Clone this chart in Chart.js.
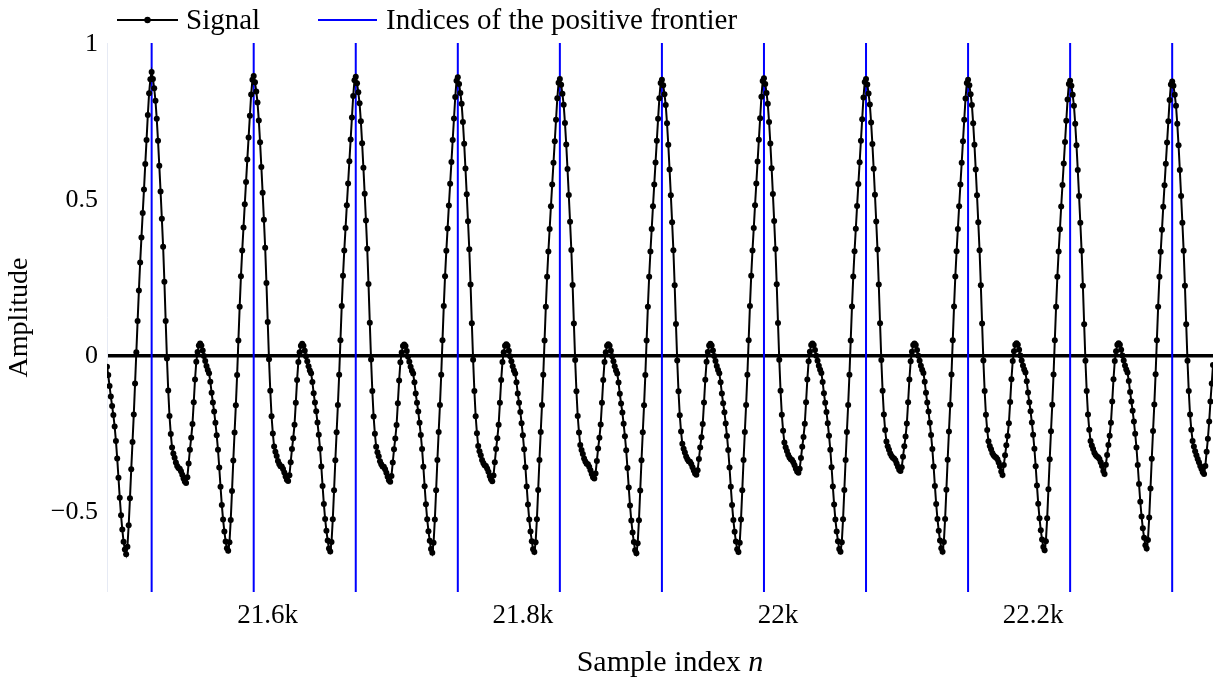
<!DOCTYPE html>
<html>
<head>
<meta charset="utf-8">
<script src="https://cdn.jsdelivr.net/npm/chart.js@4.4.1/dist/chart.umd.min.js"></script>
<style>
  html, body { margin: 0; padding: 0; background: #fff; }
  #wrap { width: 1220px; height: 677px; }
</style>
</head>
<body>
<div id="wrap"><canvas id="chart" width="1220" height="677"></canvas></div>
<script>
// visible sample window
const n_start = 21474;
const n_end = 22341;

// signal, one block per period (a period starts right after a peak)
const cycle_0 = [
  -0.034, -0.061, -0.096, -0.130, -0.160, -0.189, -0.226, -0.272, -0.328, -0.390,
  -0.454, -0.510, -0.556, -0.595, -0.620, -0.635, -0.611, -0.542, -0.456, -0.363,
  -0.275, -0.187, -0.088, 0.012, 0.112, 0.210, 0.300, 0.380, 0.458, 0.534,
  0.615, 0.692, 0.772, 0.842, 0.887, 0.910
];
const cycle_1 = [
  0.888, 0.858, 0.818, 0.760, 0.690, 0.610, 0.527, 0.440, 0.350, 0.238,
  0.112, -0.008, -0.110, -0.192, -0.250, -0.293, -0.312, -0.326, -0.341, -0.352,
  -0.359, -0.361, -0.369, -0.380, -0.392, -0.402, -0.407, -0.388, -0.344, -0.300,
  -0.262, -0.218, -0.148, -0.075, -0.018, 0.013, 0.034, 0.040, 0.034, 0.018,
  0.000, -0.016, -0.032, -0.045, -0.055, -0.082, -0.118, -0.149, -0.178, -0.214,
  -0.254, -0.300, -0.357, -0.419, -0.477, -0.524, -0.562, -0.594, -0.616, -0.624,
  -0.597, -0.525, -0.432, -0.335, -0.245, -0.158, -0.061, 0.050, 0.158, 0.256,
  0.338, 0.412, 0.486, 0.558, 0.630, 0.700, 0.770, 0.838, 0.885, 0.897
];
const cycle_2 = [
  0.877, 0.848, 0.812, 0.755, 0.685, 0.606, 0.523, 0.437, 0.347, 0.234,
  0.109, -0.010, -0.111, -0.193, -0.248, -0.290, -0.307, -0.320, -0.336, -0.346,
  -0.353, -0.354, -0.362, -0.373, -0.386, -0.396, -0.400, -0.382, -0.340, -0.298,
  -0.263, -0.220, -0.150, -0.077, -0.019, 0.012, 0.033, 0.039, 0.033, 0.017,
  -0.001, -0.017, -0.033, -0.046, -0.055, -0.083, -0.119, -0.149, -0.177, -0.213,
  -0.252, -0.297, -0.354, -0.416, -0.474, -0.522, -0.560, -0.591, -0.617, -0.626,
  -0.596, -0.523, -0.430, -0.334, -0.244, -0.157, -0.060, 0.051, 0.160, 0.257,
  0.338, 0.410, 0.483, 0.553, 0.624, 0.694, 0.764, 0.833, 0.884, 0.895
];
const cycle_3 = [
  0.874, 0.845, 0.810, 0.752, 0.682, 0.603, 0.520, 0.434, 0.344, 0.231,
  0.107, -0.011, -0.112, -0.194, -0.249, -0.291, -0.308, -0.321, -0.337, -0.347,
  -0.354, -0.355, -0.363, -0.374, -0.387, -0.398, -0.403, -0.384, -0.341, -0.299,
  -0.264, -0.221, -0.151, -0.078, -0.020, 0.011, 0.032, 0.037, 0.032, 0.016,
  -0.002, -0.018, -0.034, -0.047, -0.056, -0.084, -0.120, -0.150, -0.178, -0.214,
  -0.253, -0.298, -0.355, -0.417, -0.475, -0.523, -0.561, -0.592, -0.618, -0.630,
  -0.598, -0.524, -0.430, -0.333, -0.243, -0.157, -0.060, 0.051, 0.160, 0.256,
  0.337, 0.409, 0.482, 0.552, 0.622, 0.692, 0.761, 0.830, 0.882, 0.893
];
const cycle_4 = [
  0.872, 0.843, 0.808, 0.750, 0.680, 0.601, 0.518, 0.432, 0.342, 0.229,
  0.105, -0.012, -0.112, -0.193, -0.247, -0.288, -0.305, -0.318, -0.333, -0.343,
  -0.350, -0.352, -0.360, -0.371, -0.384, -0.395, -0.401, -0.383, -0.340, -0.298,
  -0.263, -0.220, -0.150, -0.077, -0.019, 0.012, 0.033, 0.038, 0.033, 0.017,
  -0.001, -0.017, -0.033, -0.046, -0.056, -0.084, -0.120, -0.150, -0.179, -0.215,
  -0.254, -0.299, -0.356, -0.418, -0.476, -0.524, -0.562, -0.593, -0.619, -0.628,
  -0.597, -0.523, -0.429, -0.333, -0.243, -0.157, -0.060, 0.050, 0.158, 0.254,
  0.335, 0.407, 0.480, 0.550, 0.619, 0.688, 0.757, 0.826, 0.876, 0.888
];
const cycle_5 = [
  0.869, 0.840, 0.805, 0.747, 0.678, 0.599, 0.516, 0.430, 0.340, 0.228,
  0.104, -0.013, -0.113, -0.192, -0.245, -0.285, -0.301, -0.314, -0.328, -0.338,
  -0.345, -0.347, -0.355, -0.366, -0.378, -0.388, -0.392, -0.376, -0.336, -0.296,
  -0.262, -0.219, -0.150, -0.077, -0.019, 0.012, 0.033, 0.038, 0.033, 0.017,
  -0.001, -0.017, -0.033, -0.046, -0.056, -0.085, -0.121, -0.152, -0.181, -0.217,
  -0.257, -0.302, -0.359, -0.421, -0.479, -0.527, -0.565, -0.596, -0.622, -0.632,
  -0.600, -0.526, -0.431, -0.334, -0.244, -0.158, -0.061, 0.050, 0.158, 0.254,
  0.335, 0.407, 0.480, 0.550, 0.620, 0.690, 0.760, 0.826, 0.875, 0.885
];
const cycle_6 = [
  0.868, 0.839, 0.804, 0.746, 0.677, 0.598, 0.515, 0.429, 0.339, 0.227,
  0.103, -0.014, -0.113, -0.190, -0.242, -0.281, -0.297, -0.309, -0.322, -0.331,
  -0.337, -0.339, -0.346, -0.356, -0.367, -0.376, -0.380, -0.366, -0.330, -0.293,
  -0.260, -0.218, -0.149, -0.076, -0.018, 0.013, 0.034, 0.039, 0.034, 0.018,
  0.000, -0.016, -0.032, -0.045, -0.055, -0.084, -0.120, -0.151, -0.180, -0.216,
  -0.256, -0.301, -0.357, -0.419, -0.477, -0.525, -0.563, -0.594, -0.619, -0.628,
  -0.598, -0.524, -0.430, -0.333, -0.243, -0.157, -0.060, 0.051, 0.160, 0.257,
  0.338, 0.410, 0.483, 0.553, 0.623, 0.693, 0.762, 0.831, 0.881, 0.890
];
const cycle_7 = [
  0.872, 0.843, 0.808, 0.750, 0.681, 0.602, 0.519, 0.433, 0.343, 0.230,
  0.106, -0.012, -0.111, -0.188, -0.239, -0.277, -0.292, -0.304, -0.316, -0.325,
  -0.331, -0.333, -0.340, -0.350, -0.361, -0.370, -0.374, -0.361, -0.327, -0.291,
  -0.259, -0.217, -0.148, -0.075, -0.017, 0.014, 0.035, 0.040, 0.035, 0.019,
  0.001, -0.015, -0.031, -0.044, -0.054, -0.083, -0.119, -0.150, -0.179, -0.215,
  -0.255, -0.300, -0.356, -0.418, -0.476, -0.524, -0.562, -0.593, -0.618, -0.627,
  -0.597, -0.523, -0.429, -0.333, -0.243, -0.157, -0.060, 0.050, 0.159, 0.255,
  0.336, 0.408, 0.481, 0.551, 0.621, 0.690, 0.759, 0.828, 0.878, 0.888
];
const cycle_8 = [
  0.870, 0.841, 0.806, 0.748, 0.679, 0.600, 0.517, 0.431, 0.341, 0.229,
  0.105, -0.013, -0.111, -0.187, -0.237, -0.274, -0.289, -0.300, -0.312, -0.320,
  -0.326, -0.328, -0.334, -0.344, -0.355, -0.364, -0.368, -0.356, -0.323, -0.289,
  -0.258, -0.216, -0.148, -0.075, -0.017, 0.014, 0.035, 0.040, 0.035, 0.019,
  0.001, -0.015, -0.031, -0.044, -0.054, -0.082, -0.118, -0.149, -0.178, -0.214,
  -0.253, -0.298, -0.354, -0.416, -0.474, -0.522, -0.560, -0.591, -0.616, -0.627,
  -0.596, -0.522, -0.428, -0.332, -0.242, -0.156, -0.059, 0.051, 0.159, 0.255,
  0.336, 0.407, 0.480, 0.550, 0.619, 0.688, 0.757, 0.825, 0.875, 0.885
];
const cycle_9 = [
  0.868, 0.839, 0.804, 0.746, 0.677, 0.598, 0.515, 0.429, 0.339, 0.227,
  0.104, -0.014, -0.112, -0.188, -0.237, -0.273, -0.288, -0.299, -0.311, -0.318,
  -0.323, -0.325, -0.331, -0.341, -0.353, -0.370, -0.381, -0.349, -0.318, -0.286,
  -0.256, -0.215, -0.147, -0.074, -0.016, 0.015, 0.036, 0.041, 0.036, 0.020,
  0.002, -0.014, -0.030, -0.043, -0.053, -0.081, -0.117, -0.148, -0.177, -0.213,
  -0.252, -0.297, -0.353, -0.415, -0.473, -0.520, -0.558, -0.588, -0.612, -0.622,
  -0.593, -0.520, -0.427, -0.331, -0.241, -0.156, -0.059, 0.051, 0.158, 0.254,
  0.335, 0.406, 0.479, 0.548, 0.617, 0.686, 0.754, 0.822, 0.872, 0.882
];
const cycle_10 = [
  0.866, 0.837, 0.802, 0.744, 0.675, 0.596, 0.513, 0.427, 0.337, 0.225,
  0.102, -0.015, -0.112, -0.187, -0.236, -0.272, -0.287, -0.298, -0.310, -0.317,
  -0.322, -0.324, -0.330, -0.340, -0.352, -0.368, -0.378, -0.348, -0.317, -0.285,
  -0.255, -0.214, -0.146, -0.074, -0.016, 0.015, 0.036, 0.041, 0.036, 0.020,
  0.002, -0.014, -0.030, -0.043, -0.053, -0.080, -0.115, -0.146, -0.175, -0.210,
  -0.249, -0.293, -0.349, -0.410, -0.467, -0.514, -0.552, -0.582, -0.606, -0.617,
  -0.589, -0.517, -0.424, -0.329, -0.240, -0.155, -0.058, 0.051, 0.158, 0.254,
  0.334, 0.405, 0.478, 0.547, 0.616, 0.684, 0.752, 0.820, 0.870, 0.880
];
const cycle_11 = [
  0.866, 0.837, 0.802, 0.744, 0.675, 0.596, 0.513, 0.427, 0.337, 0.225,
  0.102, -0.015, -0.112, -0.187, -0.236, -0.272, -0.290, -0.305, -0.318, -0.330,
  -0.340, -0.352, -0.362, -0.372, -0.378, -0.352, -0.307, -0.265, -0.210, -0.146,
  -0.088, -0.029
];

// sample indices of the positive frontier (peaks)
const frontier = [21509, 21589, 21669, 21749, 21829, 21909, 21989, 22069, 22149, 22229, 22309];

const x_ticks = [21600, 21800, 22000, 22200];
const y_ticks = [-0.5, 0, 0.5, 1];
const y_range = [-0.756, 1.003];

const serif = "'Liberation Serif', 'DejaVu Serif', serif";

const signal = [].concat(cycle_0, cycle_1, cycle_2, cycle_3, cycle_4, cycle_5,
  cycle_6, cycle_7, cycle_8, cycle_9, cycle_10, cycle_11);
const signal_points = signal.map((v, i) => ({x: n_start + i, y: v}));

// one vertical segment per frontier index, broken by null points
const frontier_points = [];
frontier.forEach(n => {
  frontier_points.push({x: n, y: y_range[0]}, {x: n, y: y_range[1]}, {x: n, y: null});
});

const fmt_k = v => (v / 1000) + 'k';
const fmt_y = v => v < 0 ? '\u2212' + Math.abs(v) : String(v);

// legend and x title are drawn by hand (line+marker sample, italic n)
const decorations = {
  id: 'decorations',
  afterDraw(chart) {
    const ctx = chart.ctx;
    const ds = chart.data.datasets;
    ctx.save();
    ctx.lineWidth = 2;
    ctx.strokeStyle = '#000';
    ctx.beginPath(); ctx.moveTo(117, 20); ctx.lineTo(178, 20); ctx.stroke();
    ctx.fillStyle = '#000';
    ctx.beginPath(); ctx.arc(147.5, 20, 3.2, 0, Math.PI * 2); ctx.fill();
    ctx.strokeStyle = '#0000ff';
    ctx.beginPath(); ctx.moveTo(318, 20); ctx.lineTo(377, 20); ctx.stroke();

    ctx.font = `29px ${serif}`;
    ctx.textBaseline = 'alphabetic';
    ctx.textAlign = 'left';
    ctx.fillText(ds[0].label, 186, 29);
    ctx.fillText(ds[1].label, 386, 29);

    // x axis title
    const head = 'Sample index ';
    const tail = 'n';
    ctx.font = `30px ${serif}`;
    const w_head = ctx.measureText(head).width;
    ctx.font = `italic 30px ${serif}`;
    const w_tail = ctx.measureText(tail).width;
    const x0 = 670 - (w_head + w_tail) / 2;
    ctx.font = `30px ${serif}`;
    ctx.fillText(head, x0, 671);
    ctx.font = `italic 30px ${serif}`;
    ctx.fillText(tail, x0 + w_head, 671);
    ctx.restore();
  }
};

new Chart(document.getElementById('chart'), {
  type: 'line',
  data: {
    datasets: [
      {
        label: 'Signal',
        data: signal_points,
        borderColor: '#000',
        backgroundColor: '#000',
        borderWidth: 2,
        pointRadius: 3,
        pointBorderWidth: 0,
        pointBackgroundColor: '#000',
        tension: 0
      },
      {
        label: 'Indices of the positive frontier',
        data: frontier_points,
        borderColor: '#0000ff',
        borderWidth: 2,
        pointRadius: 0,
        spanGaps: false
      }
    ]
  },
  options: {
    responsive: false,
    animation: false,
    devicePixelRatio: 1,
    layout: { padding: { top: 43, right: 7, left: 0, bottom: 0 } },
    plugins: {
      legend: { display: false },
      tooltip: { enabled: false }
    },
    scales: {
      x: {
        type: 'linear',
        min: n_start,
        max: n_end,
        afterBuildTicks: s => { s.ticks = x_ticks.map(v => ({value: v})); },
        afterFit: s => { s.height = 85; },
        grid: { display: false, drawTicks: false },
        border: { display: false },
        ticks: {
          callback: fmt_k,
          padding: 8,
          color: '#000',
          font: { family: serif, size: 27 }
        },
        title: { display: false }
      },
      y: {
        min: y_range[0],
        max: y_range[1],
        afterBuildTicks: s => { s.ticks = y_ticks.map(v => ({value: v})); },
        afterFit: s => { s.width = 107; },
        grid: {
          drawTicks: false,
          color: c => c.tick && c.tick.value === 0 ? '#000' : 'rgba(0,0,0,0)',
          lineWidth: c => c.tick && c.tick.value === 0 ? 3.5 : 0
        },
        border: { display: true, color: '#e6eaf4', width: 1 },
        ticks: {
          callback: fmt_y,
          padding: 9,
          color: '#000',
          font: { family: serif, size: 26 }
        },
        title: {
          display: true,
          text: 'Amplitude',
          color: '#000',
          padding: { top: 3, bottom: 0 },
          font: { family: serif, size: 28 }
        }
      }
    }
  },
  plugins: [decorations]
});
</script>
</body>
</html>
